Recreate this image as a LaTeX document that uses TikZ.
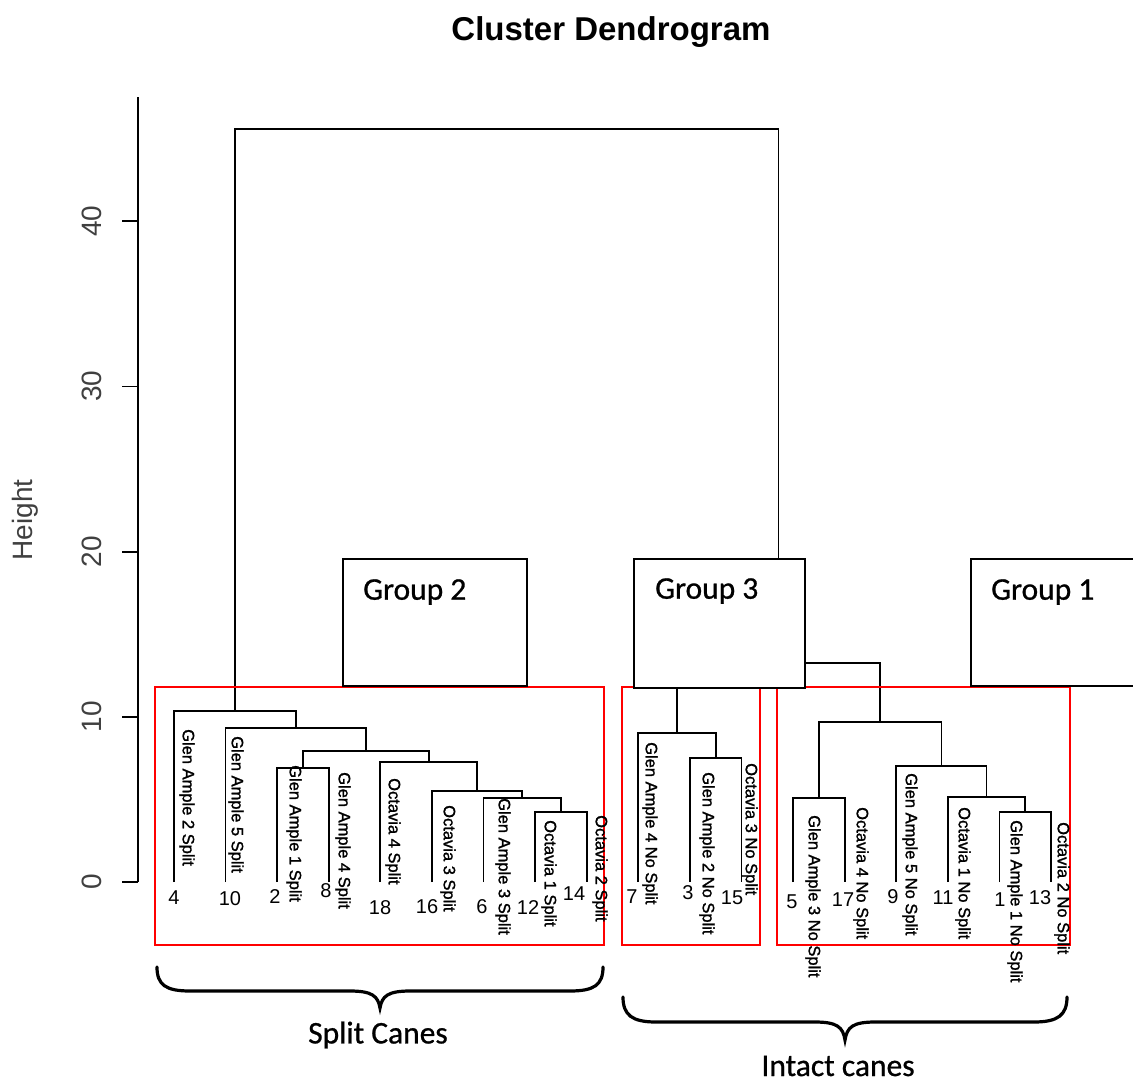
\documentclass[tikz,border=0pt]{standalone}
\usepackage{fontspec}
\setmainfont{Liberation Sans}
\newfontfamily\calfont[FakeBold=0.8]{Carlito}
\newfontfamily\leaffont[FakeBold=1.4]{Liberation Sans}
\usetikzlibrary{calc}

\newcommand{\dmerge}[4]{%
  \path (#2) -- (#3) coordinate[pos=.5] (#1h);
  \coordinate (#1) at (#1h |- 0,#4);
  \draw[dendro] (#2) |- (#1) -| (#3);}

\begin{document}
\begin{tikzpicture}[x=1pt,y=-1pt,
  dendro/.style={line width=1.8pt},
  redbox/.style={draw=red,line width=1.5pt},
  groupbox/.style={draw,fill=white,line width=2pt},
  leaflab/.style={rotate=-90,anchor=west,inner sep=0pt,font=\leaffont\fontsize{16.5}{20}\selectfont},
  leafnum/.style={inner sep=0pt,font=\fontsize{20}{22}\selectfont},
  axlab/.style={rotate=90,text=black!75,font=\fontsize{28}{32}\selectfont},
  grouplab/.style={anchor=west,inner sep=0pt,font=\calfont\fontsize{31.5}{36}\selectfont},
  caneslab/.style={inner sep=0pt,font=\calfont\fontsize{31.5}{36}\selectfont},
  canes/.style={line width=3.2pt,line cap=round}]
\useasboundingbox (0,0) rectangle (1133,1082);

\node[font=\bfseries\fontsize{33}{40}\selectfont] (title) at (611,32) {Cluster Dendrogram};

\coordinate (ax0) at (138,882);
\coordinate (ax1) at (138,97);
\draw[dendro] (ax0) -- (ax1);
\foreach \v in {0,10,20,30,40} {
  \draw[dendro] (138,{882-16.52*\v}) -- ++(-16,0);
  \node[axlab] (tick\v) at (92,{882-16.52*\v}) {\v};
}
\node[axlab] (height) at (25,520) {Height};

\foreach \n [count=\i from 0] in {4,10,2,8,18,16,6,12,14,7,3,15,5,17,9,11,1,13}
  \coordinate (l\n) at ({174+51.59*\i},882);

\dmerge{h1}{l12}{l14}{812}
\dmerge{g1}{l6}{h1}{798}
\dmerge{f1}{l16}{g1}{791}
\dmerge{e1}{l18}{f1}{762}
\dmerge{d1}{l2}{l8}{768}
\dmerge{c1}{d1}{e1}{751}
\dmerge{b1}{l10}{c1}{728}
\dmerge{a1}{l4}{b1}{711}
\dmerge{q1}{l3}{l15}{758}
\dmerge{p1}{l7}{q1}{733}
\dmerge{u1}{l1}{l13}{812}
\dmerge{t1}{l11}{u1}{797}
\dmerge{s1}{l9}{t1}{766}
\dmerge{r1}{l5}{l17}{798}
\dmerge{o1}{r1}{s1}{722}
\dmerge{n1}{p1}{o1}{663}
\dmerge{root}{a1}{n1}{129}

\draw[redbox] (155,687) rectangle (604,945);
\draw[redbox] (622,687) rectangle (760,945);
\draw[redbox] (777,687) rectangle (1070,945);

\draw[groupbox] (343,559) rectangle (527,686);
\draw[groupbox] (634,559) rectangle (805,688);
\draw[groupbox] (971,559) rectangle (1145,686);
\node[grouplab] (g2) at (363,592) {Group 2};
\node[grouplab] (g3) at (655,591) {Group 3};
\node[grouplab] (g1) at (991,592) {Group 1};

\foreach \n/\tx/\ty/\txt in {4/187/729/Glen Ample 2 Split, 10/236/736/Glen Ample 5 Split,
  2/294/765/Glen Ample 1 Split, 8/343/772/Glen Ample 4 Split, 18/393/778/Octavia 4 Split,
  16/448/805/Octavia 3 Split, 6/503/798/Glen Ample 3 Split, 12/549/820/Octavia 1 Split,
  14/600/815/Octavia 2 Split, 7/650/742/Glen Ample 4 No Split, 3/707/772/Glen Ample 2 No Split,
  15/750/763/Octavia 3 No Split, 5/813/815/Glen Ample 3 No Split, 17/861/807/Octavia 4 No Split,
  9/910/773/Glen Ample 5 No Split, 11/963/807/Octavia 1 No Split, 1/1015/820/Glen Ample 1 No Split,
  13/1062/822/Octavia 2 No Split}
  \node[leaflab] (lab\n) at (\tx,\ty) {\txt};

\foreach \n/\nx/\ny in {4/174/898, 10/230/899, 2/275/897, 8/326/891, 18/380/908, 16/427/907,
  6/482/907, 12/528/908, 14/574/894, 7/632/897, 3/688/893, 15/732/898, 5/792/902,
  17/843/900, 9/893/897, 11/943/898, 1/1000/900, 13/1040/898}
  \node[leafnum] (num\n) at (\nx,\ny) {\n};

\draw[canes] (157,967) .. controls (157,985) and (166,991) .. (190,991) -- (350,991)
  .. controls (372,991) and (378,996) .. (380,1008) .. controls (382,996) and (388,991) .. (410,991)
  -- (570,991) .. controls (594,991) and (603,985) .. (603,967);
\draw[canes] (623,997) .. controls (623,1015) and (632,1022) .. (656,1022) -- (815,1022)
  .. controls (837,1022) and (843,1027) .. (845,1040) .. controls (847,1027) and (853,1022) .. (875,1022)
  -- (1034,1022) .. controls (1058,1022) and (1067,1015) .. (1067,997);
\node[caneslab] (split) at (378,1035) {Split Canes};
\node[caneslab] (intact) at (838,1066) {Intact canes};
\end{tikzpicture}
\end{document}
